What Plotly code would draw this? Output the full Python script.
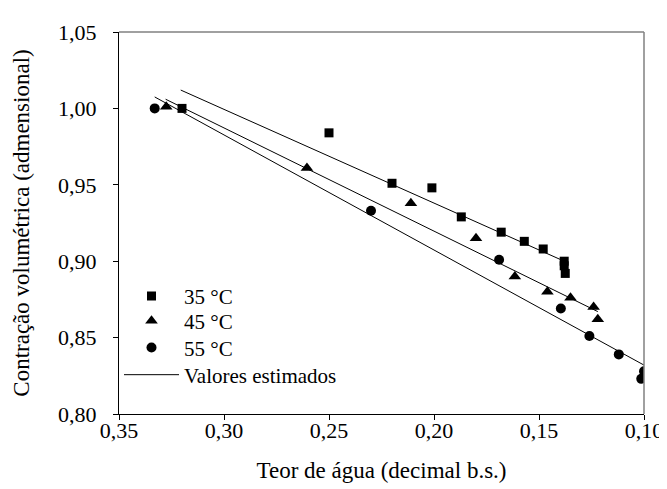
import plotly.graph_objects as go

# Data
x_35 = [0.320, 0.250, 0.220, 0.201, 0.187, 0.168, 0.157, 0.148, 0.138, 0.138, 0.1375]
y_35 = [1.000, 0.984, 0.951, 0.948, 0.929, 0.919, 0.913, 0.908, 0.900, 0.897, 0.892]

x_45 = [0.3275, 0.2605, 0.211, 0.180, 0.1615, 0.146, 0.135, 0.124, 0.122]
y_45 = [1.001, 0.961, 0.938, 0.915, 0.890, 0.880, 0.876, 0.870, 0.862]

x_55 = [0.333, 0.230, 0.169, 0.1396, 0.126, 0.112, 0.100, 0.1013]
y_55 = [1.000, 0.933, 0.901, 0.869, 0.851, 0.839, 0.828, 0.823]

# Estimated (fitted) lines, endpoints
fit_x_35 = [0.3206, 0.138]
fit_y_35 = [1.012, 0.900]
fit_x_45 = [0.3278, 0.122]
fit_y_45 = [1.006, 0.867]
fit_x_55 = [0.333, 0.100]
fit_y_55 = [1.0075, 0.832]

x_ticks = [0.35, 0.30, 0.25, 0.20, 0.15, 0.10]
y_ticks = [0.80, 0.85, 0.90, 0.95, 1.00, 1.05]

FONT = "Liberation Serif"

fig = go.Figure()
fig.add_trace(go.Scatter(x=x_35, y=y_35, mode="markers", name="35 °C", legend="legend",
                         marker=dict(symbol="square", size=9, color="black")))
fig.add_trace(go.Scatter(x=x_45, y=y_45, mode="markers", name="45 °C", legend="legend2",
                         marker=dict(symbol="triangle-up", size=11, color="black")))
fig.add_trace(go.Scatter(x=x_55, y=y_55, mode="markers", name="55 °C", legend="legend3",
                         marker=dict(symbol="circle", size=10, color="black")))
fig.add_trace(go.Scatter(x=fit_x_35, y=fit_y_35, mode="lines", name="Valores estimados",
                         legend="legend4", line=dict(color="black", width=1)))
fig.add_trace(go.Scatter(x=fit_x_45, y=fit_y_45, mode="lines", showlegend=False,
                         line=dict(color="black", width=1)))
fig.add_trace(go.Scatter(x=fit_x_55, y=fit_y_55, mode="lines", showlegend=False,
                         line=dict(color="black", width=1)))

leg_common = dict(x=0.0, xanchor="left", yanchor="middle",
                  bgcolor="rgba(0,0,0,0)", font=dict(family=FONT, size=21),
                  itemwidth=55)

fig.update_layout(
    width=667, height=489,
    margin=dict(l=110, r=24, t=22, b=83),
    paper_bgcolor="white", plot_bgcolor="white",
    separators=", ",
    font=dict(family=FONT, size=21, color="black"),
    showlegend=True,
    legend=dict(y=0.308, **leg_common),
    legend2=dict(y=0.243, **leg_common),
    legend3=dict(y=0.173, **leg_common),
    legend4=dict(y=0.102, **leg_common),
    shapes=[
        dict(type="line", xref="paper", yref="paper", x0=0, x1=1, y0=1, y1=1,
             line=dict(color="#808080", width=1.5)),
        dict(type="line", xref="paper", yref="paper", x0=1, x1=1, y0=0, y1=1,
             line=dict(color="#808080", width=1.5)),
    ],
)

fig.update_xaxes(range=[0.35, 0.10], tickvals=x_ticks, tickformat=".2f",
                 showline=True, linecolor="black", linewidth=1,
                 ticks="outside", ticklen=5, tickcolor="black",
                 showgrid=False, zeroline=False,
                 tickfont=dict(family=FONT, size=22),
                 ticklabelstandoff=-8,
                 title=dict(text="Teor de água (decimal b.s.)", standoff=19,
                            font=dict(family=FONT, size=23)))
fig.update_yaxes(range=[0.80, 1.05], tickvals=y_ticks, tickformat=".2f",
                 showline=True, linecolor="black", linewidth=1,
                 ticks="outside", ticklen=5, tickcolor="black",
                 showgrid=False, zeroline=False,
                 tickfont=dict(family=FONT, size=22),
                 ticklabelstandoff=12,
                 title=dict(text="Contração volumétrica (admensional)", standoff=22,
                            font=dict(family=FONT, size=23)))

fig.write_html("out.html")
